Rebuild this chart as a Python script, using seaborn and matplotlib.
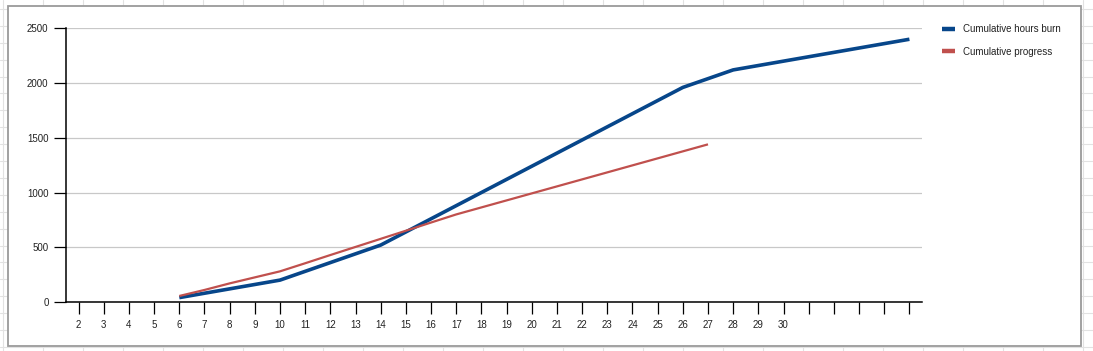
import numpy as np
import pandas as pd
import matplotlib
matplotlib.use("Agg")
import matplotlib.pyplot as plt
from matplotlib.lines import Line2D
from matplotlib.patches import Rectangle
import seaborn as sns

# ---- data ----
tick_labels = [str(i) for i in range(2, 31)] + [""] * 5
hours_burn = [None, None, None, None,
              40, 80, 120, 160, 200, 280, 360, 440, 520, 640, 760, 880, 1000,
              1120, 1240, 1360, 1480, 1600, 1720, 1840, 1960, 2040, 2120,
              2160, 2200, 2240, 2280, 2320, 2360, 2400]
progress = [None, None, None, None,
            55, 110, 170, 225, 280, 354, 429, 503, 577, 651, 726, 800,
            864, 928, 992, 1056, 1120, 1184, 1248, 1312, 1376, 1440,
            None, None, None, None, None, None, None, None]
series_names = ["Cumulative hours burn", "Cumulative progress"]
y_ticks = [0, 500, 1000, 1500, 2000, 2500]

idx = np.arange(len(tick_labels))
df = pd.concat([
    pd.DataFrame({"pos": idx, "value": hours_burn, "series": series_names[0]}),
    pd.DataFrame({"pos": idx, "value": progress, "series": series_names[1]}),
]).dropna()
df["value"] = df["value"].astype(float)

sns.set_theme(style="white")
plt.rcParams["font.family"] = ["Liberation Sans", "DejaVu Sans"]

W, H = 1093, 351
fig = plt.figure(figsize=(W / 100, H / 100), dpi=100)
fig.patch.set_facecolor("white")

# spreadsheet background grid
grid_c = "#e2e2e2"
for x in np.arange(3.3, W, 40):
    fig.add_artist(Line2D([x / W, x / W], [0, 1], color=grid_c, lw=0.8, zorder=-3))
for y in list(np.arange(330, 0, -16.9)) + [347]:
    fig.add_artist(Line2D([0, 1], [1 - y / H, 1 - y / H], color=grid_c, lw=0.8, zorder=-3))
# chart frame
fig.add_artist(Rectangle((8.3 / W, 1 - 346 / H), (1081 - 8.3) / W, (346 - 6) / H,
                         facecolor="white", edgecolor="#9a9a9a", lw=1.3, zorder=-2))

left, right, top, bottom = 66 / W, 922 / W, 28.3 / H, 302 / H
ax = fig.add_axes([left, 1 - bottom, right - left, bottom - top])
ax.set_zorder(2)
ax.set_facecolor("none")

palette = {series_names[0]: "#07468a", series_names[1]: "#c0504d"}
sns.lineplot(data=df, x="pos", y="value", hue="series", palette=palette,
             ax=ax, sort=True, legend=True)
for line, lw in zip(ax.get_lines(), [2.6, 1.6]):
    line.set_linewidth(lw)
    line.set_solid_capstyle("butt")

ax.set_xlim(-0.5, len(tick_labels) - 0.5)
ax.set_ylim(0, 2500)
ax.set_xticks(idx)
ax.set_xticklabels(tick_labels, fontsize=7, color="#222222")
ax.set_yticks(y_ticks)
ax.set_yticklabels([str(v) for v in y_ticks], fontsize=7, color="#222222")
ax.set_xlabel("")
ax.set_ylabel("")
ax.yaxis.grid(True, color="#c8c8c8", lw=0.9)
ax.xaxis.grid(False)
ax.set_axisbelow(True)
for s in ["top", "right"]:
    ax.spines[s].set_visible(False)
for s in ["left", "bottom"]:
    ax.spines[s].set_color("black")
    ax.spines[s].set_linewidth(1.1)
ax.tick_params(axis="both", which="major", direction="out", length=8.6,
               width=0.9, color="black", bottom=True, left=True)
ax.tick_params(axis="x", pad=4.5)
ax.tick_params(axis="y", pad=4)

handles, labels = ax.get_legend_handles_labels()
leg = ax.legend(handles, labels, loc="upper left",
                bbox_to_anchor=(942 / W, 1 - 24.5 / H), bbox_transform=fig.transFigure,
                frameon=False, fontsize=7, handlelength=1.35, handletextpad=0.85,
                labelspacing=1.25, borderpad=0, borderaxespad=0)
for h in leg.get_lines():
    h.set_linewidth(3.2)
    h.set_solid_capstyle("butt")
for t in leg.get_texts():
    t.set_color("#222222")

fig.savefig("out.png", dpi=100)
